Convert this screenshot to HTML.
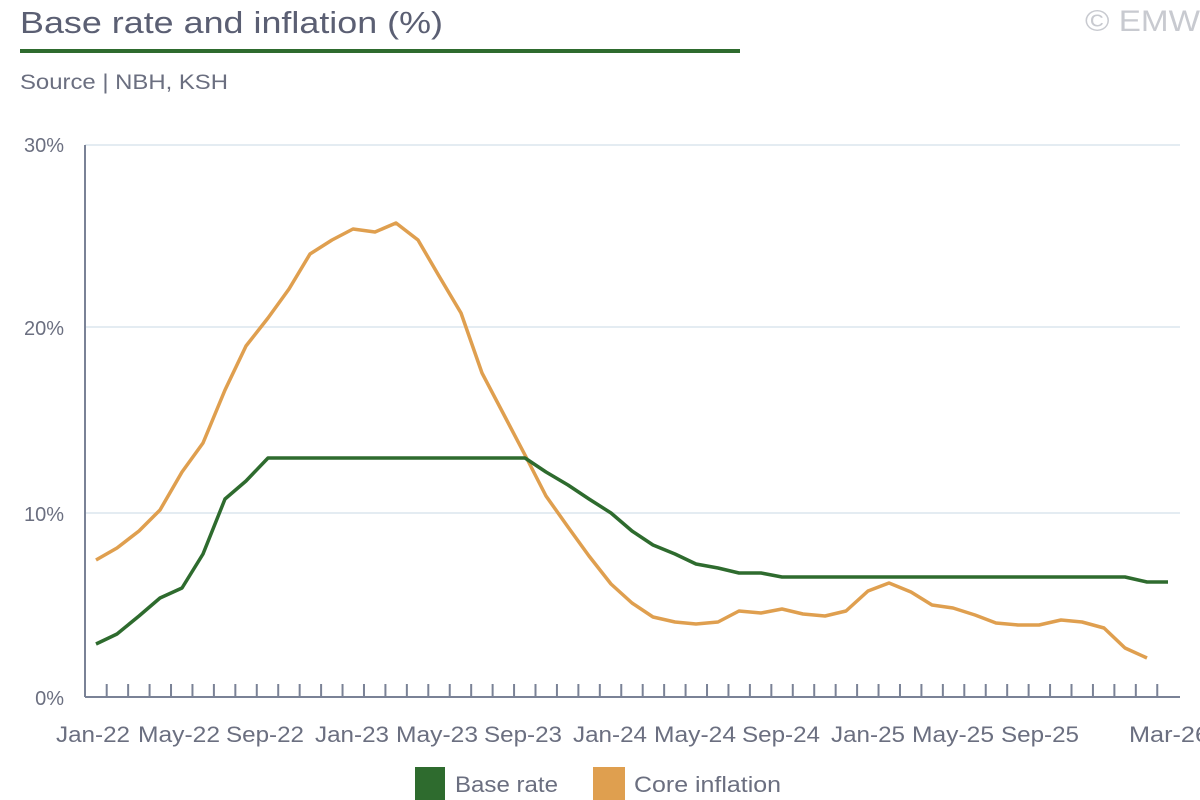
<!DOCTYPE html>
<html><head><meta charset="utf-8"><style>
body{margin:0;background:#fff;width:1200px;height:800px;overflow:hidden}
svg{display:block;font-family:"Liberation Sans",sans-serif}
</style></head><body>
<svg width="1200" height="800" xmlns="http://www.w3.org/2000/svg">
<text x="20" y="33" font-size="31" fill="#5b5f73" textLength="423" lengthAdjust="spacingAndGlyphs">Base rate and inflation (%)</text>
<text x="1085" y="31" font-size="30" fill="#c8cad0" textLength="115" lengthAdjust="spacingAndGlyphs">© EMW</text>
<rect x="20" y="49" width="720" height="4" fill="#2e6b2e"/>
<text x="20" y="89" font-size="21" fill="#6b6f80" textLength="208" lengthAdjust="spacingAndGlyphs">Source | NBH, KSH</text>
<g stroke="#dbe5ee" stroke-width="1.5">
<line x1="85" y1="145" x2="1180" y2="145"/>
<line x1="85" y1="327" x2="1180" y2="327"/>
<line x1="85" y1="513" x2="1180" y2="513"/>
</g>
<g font-size="20" fill="#6b6f80" text-anchor="end">
<text x="64" y="152">30%</text><text x="64" y="335">20%</text><text x="64" y="521">10%</text><text x="64" y="705">0%</text>
</g>
<g stroke="#7a8296" stroke-width="2" fill="none">
<line x1="85" y1="145" x2="85" y2="697"/>
<line x1="85" y1="697" x2="1180" y2="697"/>
</g>
<g id="tk" stroke="#7a8296" stroke-width="2"></g>
<polyline fill="none" stroke="#df9f4f" stroke-width="3.5" stroke-linejoin="round" points="96,560 117,548 139,531 160,510 182,472 203,443 225,390 246,346 268,318 289,289 310,254 332,240 353,229 375,232 396,223 418,240 439,276 461,313 482,373 503,413 525,455 546,496 568,527 589,556 611,584 632,603 653,617 675,622 696,624 718,622 739,611 761,613 782,609 803,614 825,616 846,611 868,591 889,583 911,592 932,605 953,608 975,615 996,623 1018,625 1039,625 1061,620 1082,622 1104,628 1125,648 1147,658"/>
<polyline fill="none" stroke="#2e6b2e" stroke-width="3.5" stroke-linejoin="round" points="96,644 117,634 139,616 160,598 182,588 203,554 225,499 246,481 268,458 503,458 525,458 546,472 568,485 589,499 611,513 632,531 653,545 675,554 696,564 718,568 739,573 761,573 782,577 1125,577 1147,582 1168,582"/>
<g font-size="22" fill="#6b6f80">
<text x="56" y="742" textLength="74" lengthAdjust="spacingAndGlyphs">Jan-22</text>
<text x="138" y="742" textLength="82" lengthAdjust="spacingAndGlyphs">May-22</text>
<text x="226" y="742" textLength="78" lengthAdjust="spacingAndGlyphs">Sep-22</text>
<text x="315" y="742" textLength="74" lengthAdjust="spacingAndGlyphs">Jan-23</text>
<text x="396" y="742" textLength="82" lengthAdjust="spacingAndGlyphs">May-23</text>
<text x="484" y="742" textLength="78" lengthAdjust="spacingAndGlyphs">Sep-23</text>
<text x="573" y="742" textLength="74" lengthAdjust="spacingAndGlyphs">Jan-24</text>
<text x="654" y="742" textLength="82" lengthAdjust="spacingAndGlyphs">May-24</text>
<text x="742" y="742" textLength="78" lengthAdjust="spacingAndGlyphs">Sep-24</text>
<text x="831" y="742" textLength="74" lengthAdjust="spacingAndGlyphs">Jan-25</text>
<text x="912" y="742" textLength="82" lengthAdjust="spacingAndGlyphs">May-25</text>
<text x="1001" y="742" textLength="78" lengthAdjust="spacingAndGlyphs">Sep-25</text>
<text x="1129" y="742" textLength="80" lengthAdjust="spacingAndGlyphs">Mar-26</text>
</g>
<rect x="415" y="767" width="30" height="33" fill="#2e6b2e"/>
<text x="455" y="792" font-size="22" fill="#6b6f80" textLength="103" lengthAdjust="spacingAndGlyphs">Base rate</text>
<rect x="593" y="767" width="32" height="33" fill="#df9f4f"/>
<text x="634" y="792" font-size="22" fill="#6b6f80" textLength="147" lengthAdjust="spacingAndGlyphs">Core inflation</text>
</svg>
<script>
var g=document.getElementById('tk'),s='';
for(var i=0;i<50;i++){var x=106.7+21.44*i;s+='<line x1="'+x+'" y1="684" x2="'+x+'" y2="697"/>';}
g.innerHTML=s;
</script>
</body></html>
